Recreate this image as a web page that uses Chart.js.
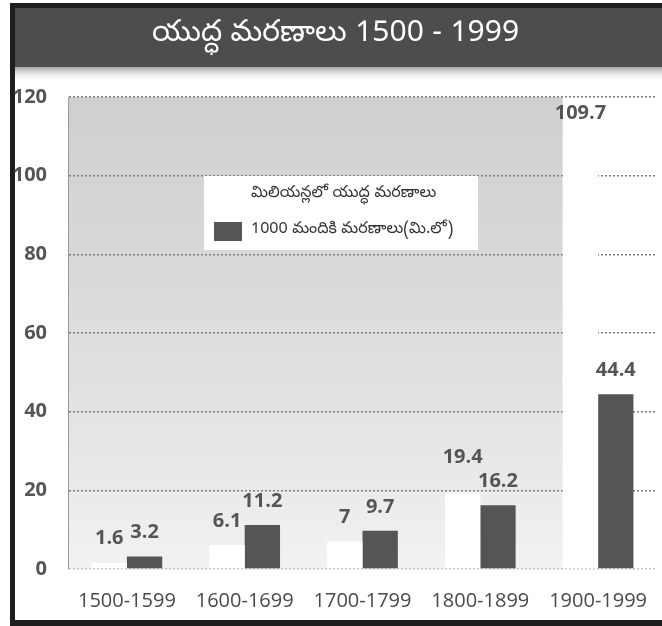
<!DOCTYPE html>
<html>
<head>
<meta charset="utf-8">
<script src="https://cdn.jsdelivr.net/npm/chart.js@4.4.1/dist/chart.umd.min.js"></script>
<style>
  body { margin: 0; background: #fff; }
  #wrap { width: 662px; height: 626px; }
</style>
</head>
<body>
<div id="wrap"><canvas id="war-chart" width="662" height="626"></canvas></div>
<script>
const titleText = 'యుద్ధ మరణాలు 1500 - 1999';
const categories = ['1500-1599', '1600-1699', '1700-1799', '1800-1899', '1900-1999'];
const deathsMillions = [1.6, 6.1, 7, 19.4, 109.7];
const deathsPer1000 = [3.2, 11.2, 9.7, 16.2, 44.4];
const seriesNames = ['మిలియన్లలో యుద్ధ మరణాలు', '1000 మందికి మరణాలు(మి.లో)'];
const yMax = 120;
const yStep = 20;

const teluguFont = "'Noto Sans Telugu', 'Open Sans', sans-serif";
const numFont = "'Open Sans', sans-serif";

// frame, title bar and the grey scanned plot background
const decor = {
  id: 'decor',
  beforeDraw(chart) {
    const { ctx, chartArea: a } = chart;
    ctx.save();
    ctx.fillStyle = '#fff';
    ctx.fillRect(0, 0, chart.width, chart.height);

    ctx.fillStyle = '#4d4d4d';
    ctx.fillRect(15, 8, chart.width - 15, 59);
    const band = ctx.createLinearGradient(0, 67, 0, 82);
    band.addColorStop(0, '#a4a4a4');
    band.addColorStop(1, 'rgba(255,255,255,0)');
    ctx.fillStyle = band;
    ctx.fillRect(15, 67, chart.width - 15, 15);

    const last = chart.getDatasetMeta(0).data[categories.length - 1];
    const right = last.x - last.width / 2;
    const bg = ctx.createLinearGradient(0, a.top, 0, a.bottom);
    bg.addColorStop(0, '#cfcfcf');
    bg.addColorStop(0.6, '#e0e0e0');
    bg.addColorStop(1, '#f2f2f2');
    ctx.fillStyle = bg;
    ctx.fillRect(a.left, a.top, right - a.left, a.bottom - a.top);

    ctx.fillStyle = '#1e1e1e';
    ctx.fillRect(10, 3, chart.width - 10, 5);
    ctx.fillRect(10, 3, 5, chart.height - 3);
    ctx.fillRect(10, 620, chart.width - 10, 6);
    ctx.restore();
  }
};

// value labels above the bars
const valueLabels = {
  id: 'valueLabels',
  afterDatasetsDraw(chart) {
    const ctx = chart.ctx;
    ctx.save();
    ctx.font = 'bold 20px ' + numFont;
    ctx.fillStyle = '#555';
    ctx.textAlign = 'center';
    ctx.textBaseline = 'bottom';
    const gap = 14, h = 18;
    const m0 = chart.getDatasetMeta(0), m1 = chart.getDatasetMeta(1);
    categories.forEach((c, i) => {
      const b0 = m0.data[i], b1 = m1.data[i];
      const t0 = String(deathsMillions[i]), t1 = String(deathsPer1000[i]);
      const w0 = ctx.measureText(t0).width, w1 = ctx.measureText(t1).width;
      const y1 = b1.y - gap;
      let y0 = b0.y - gap;
      const overlapX = (b0.x + w0 / 2) > (b1.x - w1 / 2);
      const overlapY = Math.abs(y0 - y1) < h;
      if (overlapX && overlapY) y0 = y1 - h - 6;
      ctx.fillText(t0, b0.x, y0);
      ctx.fillText(t1, b1.x, y1);
    });
    ctx.restore();
  }
};

// legend box inside the plot
const boxLegend = {
  id: 'boxLegend',
  afterDraw(chart) {
    const { ctx, chartArea: a } = chart;
    const x = a.left + 136, y = a.top + 79;
    ctx.save();
    ctx.fillStyle = '#fff';
    ctx.fillRect(x, y, 274, 74);
    ctx.font = '16px ' + teluguFont;
    ctx.textBaseline = 'middle';
    chart.data.datasets.forEach((ds, i) => {
      const cy = y + 19 + i * 36;
      ctx.fillStyle = ds.backgroundColor;
      ctx.fillRect(x + 10, cy - 9, 28, 19);
      ctx.fillStyle = '#333';
      ctx.fillText(ds.label, x + 47, cy);
    });
    ctx.restore();
  }
};

const ctx = document.getElementById('war-chart').getContext('2d');
const chart = new Chart(ctx, {
  type: 'bar',
  data: {
    labels: categories,
    datasets: [
      {
        label: seriesNames[0],
        backgroundColor: '#ffffff',
        data: deathsMillions
      },
      {
        label: seriesNames[1],
        backgroundColor: '#555555',
        data: deathsPer1000
      }
    ]
  },
  options: {
    responsive: false,
    animation: false,
    devicePixelRatio: 1,
    layout: { padding: { top: 8, left: 14, right: 5, bottom: 13 } },
    datasets: { bar: { categoryPercentage: 0.6, barPercentage: 1.0 } },
    plugins: {
      legend: { display: false },
      tooltip: { enabled: false },
      title: {
        display: true,
        text: titleText,
        color: '#ffffff',
        font: { size: 30, family: teluguFont, weight: 'normal' },
        padding: { top: 11, bottom: 42 }
      }
    },
    scales: {
      x: {
        grid: { display: false },
        border: { display: false },
        ticks: { color: '#4a4a4a', padding: 12, maxRotation: 0, minRotation: 0, font: { size: 20, family: numFont } },
        afterFit(scale) { scale.paddingLeft = 0; scale.paddingRight = 0; scale.height = 44; }
      },
      y: {
        min: 0,
        max: yMax,
        ticks: { stepSize: yStep, color: '#555', padding: 21, font: { size: 20, weight: 'bold', family: numFont } },
        grid: {
          drawTicks: false,
          lineWidth: 1.5,
          color: c => c.tick && c.tick.value === 0 ? '#c4c4c4' : '#7c7c7c'
        },
        border: { display: true, color: '#9a9a9a', dash: [2, 2] },
        afterFit(scale) { scale.width = 54; }
      }
    }
  },
  plugins: [decor, valueLabels, boxLegend]
});
</script>
</body>
</html>
